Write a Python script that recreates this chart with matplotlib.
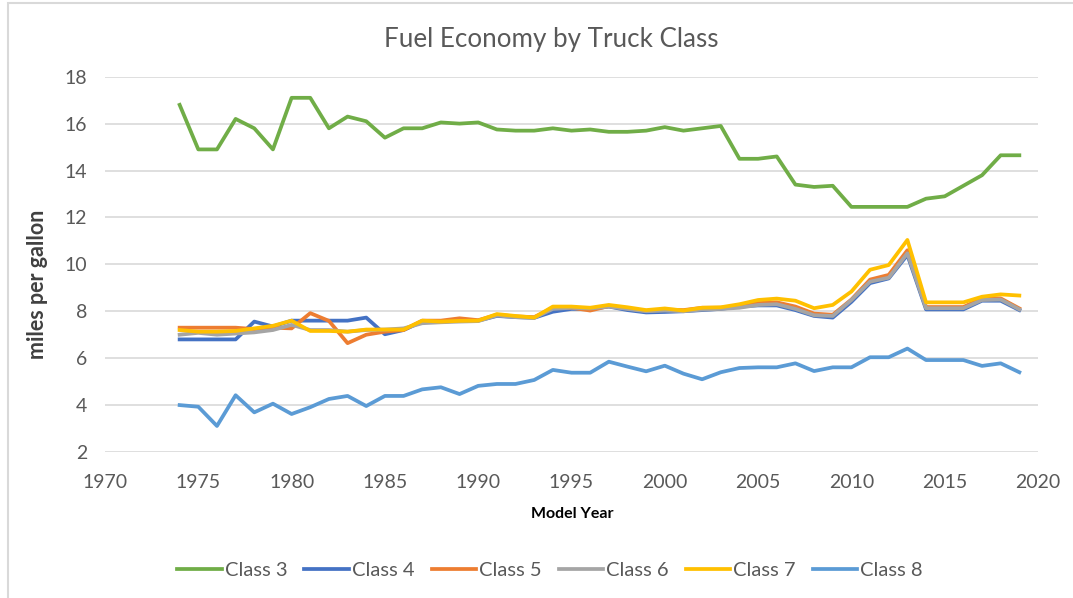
import numpy as np
import matplotlib
matplotlib.use('Agg')
import matplotlib.pyplot as plt
from matplotlib.patches import Rectangle

plt.rcParams['font.family'] = ['Lato', 'DejaVu Sans']

years = list(range(1974, 2020))

class3 = [16.8, 14.9, 14.9, 16.2, 15.8, 14.9, 17.1, 17.1, 15.8, 16.3,
          16.1, 15.4, 15.8, 15.8, 16.05, 16.0, 16.05, 15.75, 15.7, 15.7,
          15.8, 15.7, 15.75, 15.65, 15.65, 15.7, 15.85, 15.7, 15.8, 15.9,
          14.5, 14.5, 14.6, 13.4, 13.3, 13.35, 12.45, 12.45, 12.45, 12.45,
          12.8, 12.9, 13.35, 13.8, 14.65, 14.65]
class4 = [6.8, 6.8, 6.8, 6.8, 7.56, 7.35, 7.6, 7.6, 7.6, 7.6,
          7.73, 7.02, 7.2, 7.56, 7.56, 7.6, 7.6, 7.8, 7.75, 7.72,
          7.98, 8.1, 8.1, 8.2, 8.05, 7.95, 7.97, 8.0, 8.05, 8.1,
          8.2, 8.25, 8.25, 8.05, 7.8, 7.73, 8.4, 9.2, 9.4, 10.4,
          8.08, 8.08, 8.08, 8.45, 8.45, 8.05]
class5 = [7.3, 7.3, 7.3, 7.3, 7.24, 7.3, 7.27, 7.92, 7.59, 6.64,
          7.0, 7.13, 7.2, 7.6, 7.6, 7.7, 7.62, 7.85, 7.78, 7.75,
          8.15, 8.15, 8.03, 8.22, 8.12, 8.02, 8.07, 8.05, 8.15, 8.15,
          8.22, 8.35, 8.38, 8.2, 7.9, 7.85, 8.5, 9.35, 9.55, 10.6,
          8.18, 8.18, 8.18, 8.55, 8.55, 8.12]
class6 = [7.0, 7.08, 7.0, 7.05, 7.1, 7.2, 7.42, 7.2, 7.2, 7.13,
          7.2, 7.22, 7.27, 7.49, 7.53, 7.56, 7.58, 7.82, 7.75, 7.72,
          8.1, 8.15, 8.12, 8.2, 8.1, 8.0, 8.03, 8.0, 8.07, 8.1,
          8.15, 8.27, 8.3, 8.1, 7.83, 7.8, 8.48, 9.26, 9.43, 10.47,
          8.13, 8.13, 8.13, 8.48, 8.5, 8.08]
class7 = [7.2, 7.13, 7.13, 7.16, 7.27, 7.38, 7.6, 7.16, 7.16, 7.13,
          7.22, 7.22, 7.22, 7.6, 7.56, 7.59, 7.6, 7.88, 7.8, 7.73,
          8.2, 8.2, 8.15, 8.27, 8.17, 8.05, 8.12, 8.03, 8.15, 8.17,
          8.3, 8.48, 8.54, 8.45, 8.13, 8.27, 8.84, 9.77, 9.97, 11.04,
          8.38, 8.38, 8.38, 8.62, 8.72, 8.67]
class8 = [4.0, 3.93, 3.11, 4.42, 3.69, 4.06, 3.62, 3.91, 4.26, 4.39,
          3.96, 4.39, 4.39, 4.67, 4.76, 4.47, 4.82, 4.9, 4.9, 5.07,
          5.5, 5.38, 5.38, 5.85, 5.64, 5.44, 5.68, 5.34, 5.1, 5.4,
          5.58, 5.61, 5.61, 5.78, 5.45, 5.61, 5.61, 6.04, 6.04, 6.41,
          5.92, 5.92, 5.92, 5.67, 5.78, 5.4]

labels = ['Class 3', 'Class 4', 'Class 5', 'Class 6', 'Class 7', 'Class 8']
colors = ['#70AD47', '#4472C4', '#ED7D31', '#A5A5A5', '#FFC000', '#5B9BD5']
series = [class3, class4, class5, class6, class7, class8]

W, H = 1073, 598
fig = plt.figure(figsize=(W / 100, H / 100), dpi=100)
ax = fig.add_axes([105 / W, 1 - 452 / H, (1038 - 105) / W, (452 - 76.7) / H])

for vals, lab, col in zip(series, labels, colors):
    ax.plot(years, vals, color=col, lw=2.7, label=lab, solid_joinstyle='round')

ax.set_xlim(1970, 2020)
ax.set_ylim(2, 18)
ax.set_xticks(np.arange(1970, 2021, 5))
ax.set_yticks(np.arange(2, 19, 2))
ax.grid(axis='y', color='#d9d9d9', lw=1.2)
ax.set_axisbelow(True)
for s in ax.spines.values():
    s.set_visible(False)
ax.tick_params(length=0, labelsize=14, labelcolor='#595959')
ax.tick_params(axis='x', pad=16)
ax.tick_params(axis='y', pad=13)

fig.text(551 / W, 1 - 40 / H, 'Fuel Economy by Truck Class', ha='center', va='center',
         fontsize=18.7, color='#595959')
fig.text(572 / W, 1 - 514 / H, 'Model Year', ha='center', va='center',
         fontsize=11.5, fontweight='bold', color='#000000')
fig.text(38 / W, 1 - 284 / H, 'miles per gallon', ha='center', va='center', rotation=90,
         fontsize=15.5, fontweight='bold', color='#404040')

fig.legend(loc='center', bbox_to_anchor=(550 / W, 1 - 570 / H), ncol=6, frameon=False,
           fontsize=14.5, labelcolor='#595959', handlelength=2.2, handletextpad=0.15,
           columnspacing=0.85)

fig.patches.append(Rectangle((8 / W, -0.1), 1.2, 1 - 3 / H + 0.1, transform=fig.transFigure,
                             fill=False, edgecolor='#d9d9d9', lw=1.5))

fig.savefig('out.png', dpi=100)
